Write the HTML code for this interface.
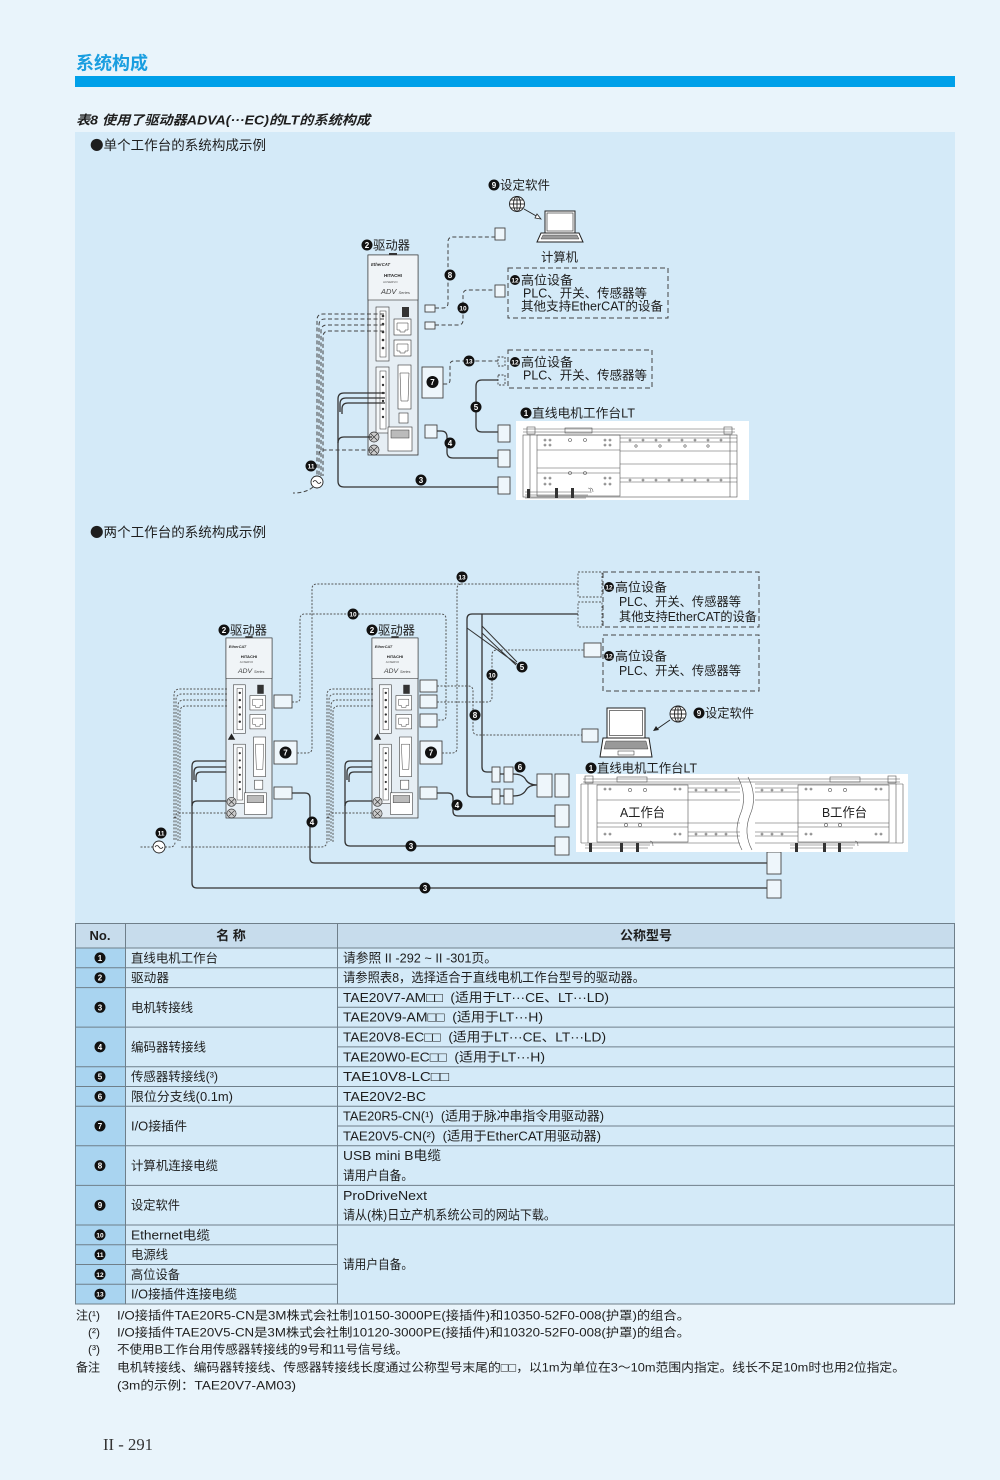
<!DOCTYPE html>
<html><head><meta charset="utf-8">
<style>
body{margin:0;padding:0;}
svg{display:block;}
.t{font-family:"Liberation Sans","Noto Sans CJK SC",sans-serif;fill:#1e1e1e;}
.c circle{fill:#111;}
.c text{fill:#fff;font-family:"Liberation Sans",sans-serif;font-size:8px;font-weight:bold;text-anchor:middle;}
.c text.s{font-size:6.5px;}
.ln{fill:none;stroke:#333;stroke-width:1.3;}
.ds{fill:none;stroke:#444;stroke-width:1;stroke-dasharray:4 2.5;}
.dt{fill:none;stroke:#555;stroke-width:1;stroke-dasharray:2 1.5;}
.bx{fill:#eef6fb;stroke:#444;stroke-width:0.9;}
.drv text{font-family:"Liberation Sans",sans-serif;}
.lt line,.lt rect,.lt path{stroke:#555;stroke-width:0.6;fill:none;}
.lt circle{fill:none;stroke:#555;stroke-width:0.6;}
</style></head><body>
<svg width="1000" height="1480" viewBox="0 0 1000 1480" xmlns="http://www.w3.org/2000/svg">
<rect x="0" y="0" width="1000" height="1480" fill="#e9f4fb"/>
<!-- header -->
<text class="t" x="76" y="69.5" font-size="18" font-weight="bold" style="fill:#1a9ee0" textLength="72" lengthAdjust="spacingAndGlyphs">系统构成</text>
<rect x="75" y="76" width="880" height="11" fill="#00a0e9"/>
<text class="t" x="76" y="124.5" font-size="13" font-weight="bold" font-style="italic" textLength="294" lengthAdjust="spacingAndGlyphs">表8 使用了驱动器ADVA(···EC)的LT的系统构成</text>
<rect x="75" y="132" width="880" height="791" fill="#d4eaf8"/>
<text x="90" y="150" font-size="13.5" fill="#1e1e1e" font-family="Noto Sans CJK SC, sans-serif" textLength="176" lengthAdjust="spacingAndGlyphs">●单个工作台的系统构成示例</text>
<text x="90" y="537" font-size="13.5" fill="#1e1e1e" font-family="Noto Sans CJK SC, sans-serif" textLength="176" lengthAdjust="spacingAndGlyphs">●两个工作台的系统构成示例</text>

<!-- ================= DIAGRAM 1 ================= -->
<g class="drv" transform="translate(368,255)">
<rect x="0" y="0" width="50" height="200" fill="#e6eef4" stroke="#333" stroke-width="0.8"/>
<rect x="0" y="0" width="50" height="45" fill="#f0f4f7" stroke="#333" stroke-width="0.6"/>
<rect x="21" y="-2" width="8" height="2" fill="#333"/>
<text x="3" y="11" font-size="4.2" font-weight="bold" font-style="italic" fill="#333">EtherCAT</text>
<text x="16" y="22" font-size="4.5" font-weight="bold" fill="#222">HITACHI</text>
<text x="15" y="28" font-size="3" fill="#555">ACSERVO</text>
<text x="13" y="39" font-size="7.5" font-style="italic" fill="#444">ADV <tspan font-size="4">Series</tspan></text>
<rect x="8" y="52" width="13" height="54" fill="#f5f8fa" stroke="#333" stroke-width="0.6"/>
<rect x="12" y="56" width="6" height="46" fill="#fff" stroke="#333" stroke-width="0.5"/>
<g fill="#333"><circle cx="15" cy="61" r="1.3"/><circle cx="15" cy="69" r="1.3"/><circle cx="15" cy="77" r="1.3"/><circle cx="15" cy="85" r="1.3"/><circle cx="15" cy="93" r="1.3"/></g>
<rect x="34" y="52" width="7" height="10" fill="#333"/>
<rect x="26" y="64" width="17" height="16" fill="#fff" stroke="#333" stroke-width="0.6"/>
<path d="M29,68 h11 v7 h-3 v2 h-5 v-2 h-3 z" fill="none" stroke="#333" stroke-width="0.5"/>
<rect x="26" y="85" width="17" height="16" fill="#fff" stroke="#333" stroke-width="0.6"/>
<path d="M29,89 h11 v7 h-3 v2 h-5 v-2 h-3 z" fill="none" stroke="#333" stroke-width="0.5"/>
<rect x="8" y="112" width="13" height="66" fill="#f5f8fa" stroke="#333" stroke-width="0.6"/>
<rect x="12" y="116" width="6" height="58" fill="#fff" stroke="#333" stroke-width="0.5"/>
<g fill="#333"><circle cx="15" cy="122" r="1.2"/><circle cx="15" cy="130" r="1.2"/><circle cx="15" cy="138" r="1.2"/><circle cx="15" cy="146" r="1.2"/><circle cx="15" cy="154" r="1.2"/><circle cx="15" cy="162" r="1.2"/></g>
<rect x="30" y="110" width="13" height="44" fill="#fff" stroke="#333" stroke-width="0.6"/>
<path d="M32,118 l9,0 l-1,28 l-7,0 z" fill="none" stroke="#333" stroke-width="0.5"/>
<rect x="31" y="158" width="9" height="10" fill="#fff" stroke="#333" stroke-width="0.6"/>
<rect x="20" y="172" width="24" height="24" fill="#fff" stroke="#333" stroke-width="0.6"/>
<rect x="23" y="175" width="18" height="8" fill="#bbb" stroke="#333" stroke-width="0.5"/>
<circle cx="6" cy="182" r="5" fill="#ccc" stroke="#333" stroke-width="0.7"/>
<path d="M3,179 l6,6 M9,179 l-6,6" stroke="#333" stroke-width="0.7"/>
<circle cx="6" cy="195" r="5" fill="#ccc" stroke="#333" stroke-width="0.7"/>
<path d="M3,192 l6,6 M9,192 l-6,6" stroke="#333" stroke-width="0.7"/>
</g>
<g class="c"><circle cx="367" cy="245" r="5.5"/><text x="367" y="248">2</text></g>
<text class="t" x="373" y="249.5" font-size="12.5" textLength="37" lengthAdjust="spacingAndGlyphs">驱动器</text>

<g fill="none" stroke="#222" stroke-width="0.9">
<circle cx="517" cy="204" r="7.5" fill="#fff"/>
<ellipse cx="517" cy="204" rx="3.5" ry="7.5"/>
<line x1="517" y1="196.5" x2="517" y2="211.5"/>
<line x1="509.5" y1="204" x2="524.5" y2="204"/>
<line x1="511" y1="200" x2="523" y2="200"/><line x1="511" y1="208" x2="523" y2="208"/>
<line x1="524" y1="209" x2="538" y2="217"/>
</g>
<path d="M541,219 l-6,-1 l2,-4 z" fill="#fff" stroke="#222" stroke-width="0.8"/>
<rect x="545" y="211" width="30" height="22" fill="#fff" stroke="#222" stroke-width="1"/>
<rect x="547" y="213" width="26" height="18" fill="none" stroke="#222" stroke-width="0.6"/>
<path d="M541,233 h38 l4,9 h-46 z" fill="#fff" stroke="#222" stroke-width="1"/>
<path d="M543,235 h34 l2,4 h-38 z" fill="#999" stroke="#222" stroke-width="0.4"/>
<g class="c"><circle cx="494" cy="185" r="5.5"/><text x="494" y="188">9</text></g>
<text class="t" x="500" y="189.5" font-size="12.5" textLength="50" lengthAdjust="spacingAndGlyphs">设定软件</text>
<text class="t" x="541" y="261.5" font-size="12.5" textLength="37" lengthAdjust="spacingAndGlyphs">计算机</text>

<rect class="bx" x="425" y="305" width="10" height="7"/>
<rect class="bx" x="425" y="322" width="10" height="7"/>
<rect class="bx" x="422" y="367" width="21" height="31"/>
<rect class="bx" x="425" y="425" width="12" height="13"/>
<path class="ds" d="M435,308 H443 Q448,308 448,303 V242 Q448,237 453,237 H495"/>
<rect class="bx" x="495" y="228" width="10" height="12"/>
<g class="c"><circle cx="450" cy="275" r="5.5"/><text x="450" y="278">8</text></g>
<path class="ds" d="M435,325 H458 Q463,325 463,320 V295 Q463,290 468,290 H495"/>
<rect class="bx" x="495" y="285" width="10" height="12"/>
<g class="c"><circle cx="463" cy="308" r="5.5"/><text class="s" x="463" y="310.5">10</text></g>
<rect x="508" y="268" width="160" height="50" fill="none" stroke="#444" stroke-width="1" stroke-dasharray="5 3"/>
<g class="c"><circle cx="515" cy="280" r="5"/><text class="s" x="515" y="282.5">12</text></g>
<text class="t" x="521" y="284.5" font-size="12.5" textLength="52" lengthAdjust="spacingAndGlyphs">高位设备</text>
<text class="t" x="523" y="297.5" font-size="12.5" textLength="124" lengthAdjust="spacingAndGlyphs">PLC、开关、传感器等</text>
<text class="t" x="521" y="310.5" font-size="12.5" textLength="142" lengthAdjust="spacingAndGlyphs">其他支持EtherCAT的设备</text>
<path class="ds" d="M443,384 H446 Q450,384 450,380 V365 Q450,361 454,361 H498"/>
<rect x="498" y="357" width="7" height="9" fill="none" stroke="#444" stroke-width="0.9" stroke-dasharray="2 1.5"/>
<g class="c"><circle cx="469" cy="361" r="5.5"/><text class="s" x="469" y="363.5">13</text></g>
<g class="c"><circle cx="432.5" cy="382" r="6"/><text x="432.5" y="385">7</text></g>
<rect x="508" y="350" width="144" height="38" fill="none" stroke="#444" stroke-width="1" stroke-dasharray="5 3"/>
<g class="c"><circle cx="515" cy="362" r="5"/><text class="s" x="515" y="364.5">12</text></g>
<text class="t" x="521" y="366.5" font-size="12.5" textLength="52" lengthAdjust="spacingAndGlyphs">高位设备</text>
<text class="t" x="523" y="379.5" font-size="12.5" textLength="124" lengthAdjust="spacingAndGlyphs">PLC、开关、传感器等</text>
<rect x="498" y="375" width="7" height="10" fill="none" stroke="#444" stroke-width="0.9" stroke-dasharray="2 1.5"/>
<path class="ln" d="M498,380 H482 Q476,380 476,386 V426 Q476,432 482,432 H498"/>
<rect class="bx" x="498" y="425" width="12" height="17"/>
<g class="c"><circle cx="476" cy="407" r="5.5"/><text x="476" y="410">5</text></g>
<path class="ln" d="M437,431 H441 Q447,431 447,437 V452 Q447,458 453,458 H498"/>
<rect class="bx" x="498" y="450" width="12" height="17"/>
<g class="c"><circle cx="450" cy="443" r="5.5"/><text x="450" y="446">4</text></g>
<path class="ln" d="M385,393 H344 Q338,393 338,399 V481 Q338,487 344,487 H498"/>
<path class="ln" d="M385,398 H346 Q340,398 340,404 V412"/>
<path class="ln" d="M385,403 H348 Q342,403 342,409 V414"/>
<path class="ln" d="M372,437 H344 Q338,437 338,443"/>
<rect class="bx" x="498" y="477" width="12" height="17"/>
<g class="c"><circle cx="421" cy="480" r="5.5"/><text x="421" y="483">3</text></g>
<path class="ds" d="M384,314 H323 Q317,314 317,320 V476"/>
<path class="ds" d="M384,319 H325 Q319,319 319,325 V476"/>
<path class="ds" d="M384,325 H327 Q321,325 321,331 V476"/>
<path class="ds" d="M384,331 H329 Q323,331 323,337 V476"/>
<path class="ds" d="M372,450 H324 Q319,450 319,455"/>
<path class="ds" d="M313,487 Q306,493 293,493"/>
<circle cx="317" cy="482" r="6" fill="#fff" stroke="#222" stroke-width="0.9"/>
<path d="M313,482 q2,-3 4,0 t4,0" fill="none" stroke="#222" stroke-width="0.8"/>
<g class="c"><circle cx="311" cy="466" r="5.5"/><text class="s" x="311" y="468.5">11</text></g>
<g class="c"><circle cx="526" cy="413" r="5.5"/><text x="526" y="416">1</text></g>
<text class="t" x="532" y="417.5" font-size="12.5" textLength="103" lengthAdjust="spacingAndGlyphs">直线电机工作台LT</text>
<rect x="516" y="421" width="233" height="79" fill="#fff"/>
<g class="lt">
<line x1="523" y1="429" x2="735" y2="429"/><line x1="523" y1="432" x2="735" y2="432"/>
<rect x="527" y="427" width="8" height="7"/><rect x="724" y="427" width="8" height="7"/>
<rect x="565" y="428" width="27" height="5"/>
<rect x="523" y="435" width="214" height="62"/>
<rect x="537" y="435" width="83" height="61"/>
<line x1="537" y1="450" x2="620" y2="450"/><line x1="537" y1="468" x2="620" y2="468"/><line x1="537" y1="473" x2="620" y2="473"/>
<line x1="620" y1="438" x2="737" y2="438"/><line x1="620" y1="442" x2="737" y2="442"/>
<line x1="620" y1="451" x2="737" y2="451"/><line x1="620" y1="464" x2="737" y2="464"/>
<line x1="620" y1="478" x2="737" y2="478"/><line x1="620" y1="482" x2="737" y2="482"/>
<line x1="530" y1="435" x2="530" y2="497"/><line x1="730" y1="435" x2="730" y2="497"/>
<circle cx="545" cy="440" r="1"/><circle cx="550" cy="440" r="1"/><circle cx="570" cy="440" r="1.5"/><circle cx="585" cy="440" r="1.5"/><circle cx="605" cy="440" r="1"/><circle cx="610" cy="440" r="1"/>
<circle cx="545" cy="445" r="1"/><circle cx="550" cy="445" r="1"/><circle cx="605" cy="445" r="1"/><circle cx="610" cy="445" r="1"/>
<circle cx="545" cy="478" r="1"/><circle cx="550" cy="478" r="1"/><circle cx="570" cy="473" r="1.5"/><circle cx="585" cy="473" r="1.5"/><circle cx="605" cy="478" r="1"/><circle cx="610" cy="478" r="1"/>
<circle cx="545" cy="484" r="1"/><circle cx="550" cy="484" r="1"/><circle cx="605" cy="484" r="1"/><circle cx="610" cy="484" r="1"/>
<circle cx="630" cy="440" r="1"/><circle cx="643" cy="440" r="1"/><circle cx="656" cy="440" r="1"/><circle cx="669" cy="440" r="1"/><circle cx="682" cy="440" r="1"/><circle cx="695" cy="440" r="1"/><circle cx="708" cy="440" r="1"/><circle cx="721" cy="440" r="1"/>
<circle cx="636" cy="446" r="1.2"/><circle cx="660" cy="446" r="1.2"/><circle cx="685" cy="446" r="1.2"/><circle cx="708" cy="446" r="1.2"/>
<circle cx="630" cy="480" r="1"/><circle cx="643" cy="480" r="1"/><circle cx="656" cy="480" r="1"/><circle cx="669" cy="480" r="1"/><circle cx="682" cy="480" r="1"/><circle cx="695" cy="480" r="1"/><circle cx="708" cy="480" r="1"/><circle cx="721" cy="480" r="1"/>
<path d="M525,492 H590 M525,495 H588 M525,498 H586 M590,488 q3,0 3,4 M588,488 q3,0 3,5"/>
</g>
<g fill="#333"><rect x="527" y="489" width="3" height="9"/><rect x="555" y="488" width="3" height="10"/><rect x="571" y="488" width="3" height="10"/></g>

<!-- ================= DIAGRAM 2 ================= -->
<g class="drv" transform="translate(226,638) scale(0.92,0.9)">
<rect x="0" y="0" width="50" height="200" fill="#e6eef4" stroke="#333" stroke-width="0.8"/>
<rect x="0" y="0" width="50" height="45" fill="#f0f4f7" stroke="#333" stroke-width="0.6"/>
<rect x="21" y="-2" width="8" height="2" fill="#333"/>
<text x="3" y="11" font-size="4.2" font-weight="bold" font-style="italic" fill="#333">EtherCAT</text>
<text x="16" y="22" font-size="4.5" font-weight="bold" fill="#222">HITACHI</text>
<text x="15" y="28" font-size="3" fill="#555">ACSERVO</text>
<text x="13" y="39" font-size="7.5" font-style="italic" fill="#444">ADV <tspan font-size="4">Series</tspan></text>
<rect x="8" y="52" width="13" height="54" fill="#f5f8fa" stroke="#333" stroke-width="0.6"/>
<rect x="12" y="56" width="6" height="46" fill="#fff" stroke="#333" stroke-width="0.5"/>
<g fill="#333"><circle cx="15" cy="61" r="1.3"/><circle cx="15" cy="69" r="1.3"/><circle cx="15" cy="77" r="1.3"/><circle cx="15" cy="85" r="1.3"/><circle cx="15" cy="93" r="1.3"/></g>
<rect x="34" y="52" width="7" height="10" fill="#333"/>
<rect x="26" y="64" width="17" height="16" fill="#fff" stroke="#333" stroke-width="0.6"/>
<path d="M29,68 h11 v7 h-3 v2 h-5 v-2 h-3 z" fill="none" stroke="#333" stroke-width="0.5"/>
<rect x="26" y="85" width="17" height="16" fill="#fff" stroke="#333" stroke-width="0.6"/>
<path d="M29,89 h11 v7 h-3 v2 h-5 v-2 h-3 z" fill="none" stroke="#333" stroke-width="0.5"/>
<path d="M2,113 l4,-7 l4,7 z" fill="#222"/>
<rect x="8" y="118" width="13" height="66" fill="#f5f8fa" stroke="#333" stroke-width="0.6"/>
<rect x="12" y="122" width="6" height="58" fill="#fff" stroke="#333" stroke-width="0.5"/>
<g fill="#333"><circle cx="15" cy="128" r="1.2"/><circle cx="15" cy="136" r="1.2"/><circle cx="15" cy="144" r="1.2"/><circle cx="15" cy="152" r="1.2"/><circle cx="15" cy="160" r="1.2"/><circle cx="15" cy="168" r="1.2"/></g>
<rect x="30" y="110" width="13" height="44" fill="#fff" stroke="#333" stroke-width="0.6"/>
<path d="M32,118 l9,0 l-1,28 l-7,0 z" fill="none" stroke="#333" stroke-width="0.5"/>
<rect x="31" y="158" width="9" height="10" fill="#fff" stroke="#333" stroke-width="0.6"/>
<rect x="20" y="172" width="24" height="24" fill="#fff" stroke="#333" stroke-width="0.6"/>
<rect x="23" y="175" width="18" height="8" fill="#bbb" stroke="#333" stroke-width="0.5"/>
<circle cx="6" cy="182" r="5" fill="#ccc" stroke="#333" stroke-width="0.7"/>
<path d="M3,179 l6,6 M9,179 l-6,6" stroke="#333" stroke-width="0.7"/>
<circle cx="6" cy="195" r="5" fill="#ccc" stroke="#333" stroke-width="0.7"/>
<path d="M3,192 l6,6 M9,192 l-6,6" stroke="#333" stroke-width="0.7"/>
</g>
<g class="drv" transform="translate(372,638) scale(0.92,0.9)">
<rect x="0" y="0" width="50" height="200" fill="#e6eef4" stroke="#333" stroke-width="0.8"/>
<rect x="0" y="0" width="50" height="45" fill="#f0f4f7" stroke="#333" stroke-width="0.6"/>
<rect x="21" y="-2" width="8" height="2" fill="#333"/>
<text x="3" y="11" font-size="4.2" font-weight="bold" font-style="italic" fill="#333">EtherCAT</text>
<text x="16" y="22" font-size="4.5" font-weight="bold" fill="#222">HITACHI</text>
<text x="15" y="28" font-size="3" fill="#555">ACSERVO</text>
<text x="13" y="39" font-size="7.5" font-style="italic" fill="#444">ADV <tspan font-size="4">Series</tspan></text>
<rect x="8" y="52" width="13" height="54" fill="#f5f8fa" stroke="#333" stroke-width="0.6"/>
<rect x="12" y="56" width="6" height="46" fill="#fff" stroke="#333" stroke-width="0.5"/>
<g fill="#333"><circle cx="15" cy="61" r="1.3"/><circle cx="15" cy="69" r="1.3"/><circle cx="15" cy="77" r="1.3"/><circle cx="15" cy="85" r="1.3"/><circle cx="15" cy="93" r="1.3"/></g>
<rect x="34" y="52" width="7" height="10" fill="#333"/>
<rect x="26" y="64" width="17" height="16" fill="#fff" stroke="#333" stroke-width="0.6"/>
<path d="M29,68 h11 v7 h-3 v2 h-5 v-2 h-3 z" fill="none" stroke="#333" stroke-width="0.5"/>
<rect x="26" y="85" width="17" height="16" fill="#fff" stroke="#333" stroke-width="0.6"/>
<path d="M29,89 h11 v7 h-3 v2 h-5 v-2 h-3 z" fill="none" stroke="#333" stroke-width="0.5"/>
<path d="M2,113 l4,-7 l4,7 z" fill="#222"/>
<rect x="8" y="118" width="13" height="66" fill="#f5f8fa" stroke="#333" stroke-width="0.6"/>
<rect x="12" y="122" width="6" height="58" fill="#fff" stroke="#333" stroke-width="0.5"/>
<g fill="#333"><circle cx="15" cy="128" r="1.2"/><circle cx="15" cy="136" r="1.2"/><circle cx="15" cy="144" r="1.2"/><circle cx="15" cy="152" r="1.2"/><circle cx="15" cy="160" r="1.2"/><circle cx="15" cy="168" r="1.2"/></g>
<rect x="30" y="110" width="13" height="44" fill="#fff" stroke="#333" stroke-width="0.6"/>
<path d="M32,118 l9,0 l-1,28 l-7,0 z" fill="none" stroke="#333" stroke-width="0.5"/>
<rect x="31" y="158" width="9" height="10" fill="#fff" stroke="#333" stroke-width="0.6"/>
<rect x="20" y="172" width="24" height="24" fill="#fff" stroke="#333" stroke-width="0.6"/>
<rect x="23" y="175" width="18" height="8" fill="#bbb" stroke="#333" stroke-width="0.5"/>
<circle cx="6" cy="182" r="5" fill="#ccc" stroke="#333" stroke-width="0.7"/>
<path d="M3,179 l6,6 M9,179 l-6,6" stroke="#333" stroke-width="0.7"/>
<circle cx="6" cy="195" r="5" fill="#ccc" stroke="#333" stroke-width="0.7"/>
<path d="M3,192 l6,6 M9,192 l-6,6" stroke="#333" stroke-width="0.7"/>
</g>
<g class="c"><circle cx="224" cy="630" r="5.5"/><text x="224" y="633">2</text></g>
<text class="t" x="230" y="634.5" font-size="12.5" textLength="37" lengthAdjust="spacingAndGlyphs">驱动器</text>
<g class="c"><circle cx="372" cy="630" r="5.5"/><text x="372" y="633">2</text></g>
<text class="t" x="378" y="634.5" font-size="12.5" textLength="37" lengthAdjust="spacingAndGlyphs">驱动器</text>

<rect class="bx" x="274" y="695" width="18" height="13"/>
<rect class="bx" x="274" y="741" width="23" height="23"/>
<rect class="bx" x="274" y="787" width="18" height="12"/>
<rect class="bx" x="420" y="680" width="17" height="12"/>
<rect class="bx" x="420" y="695" width="17" height="13"/>
<rect class="bx" x="420" y="714" width="17" height="13"/>
<rect class="bx" x="420" y="741" width="22" height="23"/>
<rect class="bx" x="420" y="787" width="17" height="12"/>
<g class="c"><circle cx="285.5" cy="752.5" r="6"/><text x="285.5" y="755.5">7</text></g>
<g class="c"><circle cx="431" cy="752.5" r="6"/><text x="431" y="755.5">7</text></g>

<path class="dt" d="M297,753 H307 Q312,753 312,748 V589 Q312,584 317,584 H578"/>
<path class="dt" d="M442,753 H452 Q457,753 457,748 V589 Q457,584 462,584"/>
<g class="c"><circle cx="462" cy="577" r="5.5"/><text class="s" x="462" y="579.5">13</text></g>
<path class="dt" d="M292,702 H296 Q300,702 300,698 V619 Q300,614 305,614 H441 Q446,614 446,619 V716 Q446,720 442,720 H437"/>
<g class="c"><circle cx="353" cy="614" r="5.5"/><text class="s" x="353" y="616.5">10</text></g>
<rect x="578" y="572" width="24" height="25" fill="none" stroke="#555" stroke-width="0.9" stroke-dasharray="2 1.5"/>
<rect x="578" y="602" width="24" height="25" fill="none" stroke="#555" stroke-width="0.9" stroke-dasharray="2 1.5"/>
<rect x="603" y="572" width="156" height="55" fill="none" stroke="#444" stroke-width="1" stroke-dasharray="5 3"/>
<g class="c"><circle cx="609" cy="587" r="5"/><text class="s" x="609" y="589.5">12</text></g>
<text class="t" x="615" y="591.5" font-size="12.5" textLength="52" lengthAdjust="spacingAndGlyphs">高位设备</text>
<text class="t" x="619" y="606" font-size="12.5" textLength="122" lengthAdjust="spacingAndGlyphs">PLC、开关、传感器等</text>
<text class="t" x="619" y="621" font-size="12.5" textLength="138" lengthAdjust="spacingAndGlyphs">其他支持EtherCAT的设备</text>
<rect x="603" y="635" width="156" height="56" fill="none" stroke="#444" stroke-width="1" stroke-dasharray="5 3"/>
<rect class="bx" x="584" y="643" width="17" height="14"/>
<g class="c"><circle cx="609" cy="656" r="5"/><text class="s" x="609" y="658.5">12</text></g>
<text class="t" x="615" y="660.5" font-size="12.5" textLength="52" lengthAdjust="spacingAndGlyphs">高位设备</text>
<text class="t" x="619" y="675" font-size="12.5" textLength="122" lengthAdjust="spacingAndGlyphs">PLC、开关、传感器等</text>
<path class="ln" d="M578,614 H472 Q467,614 467,619 V792 Q467,797 472,797 H492"/>
<path class="ln" d="M482,614 V767 Q482,772 487,772 H492"/>
<path fill="none" stroke="#333" stroke-width="1" d="M467,628 L517,664 M482,626 L517,662 M482,633 L516,665"/>
<g class="c"><circle cx="522" cy="667" r="5.5"/><text x="522" y="670">5</text></g>
<rect class="bx" x="492" y="767" width="8" height="15"/>
<rect class="bx" x="504" y="767" width="9" height="15"/>
<rect class="bx" x="492" y="789" width="8" height="15"/>
<rect class="bx" x="504" y="789" width="9" height="15"/>
<path class="ln" d="M500,774 H504 M500,796 H504 M513,774 Q523,774 526,780 Q529,785 537,785 M513,796 Q523,796 526,790 Q529,785 537,785"/>
<rect class="bx" x="537" y="774" width="15" height="23"/>
<rect class="bx" x="555" y="774" width="14" height="23"/>
<g class="c"><circle cx="520" cy="767" r="5.5"/><text x="520" y="770">6</text></g>
<path class="dt" d="M437,686 H468 Q473,686 473,691 V730 Q473,735 478,735 H582"/>
<rect class="bx" x="582" y="729" width="16" height="13"/>
<g class="c"><circle cx="475" cy="715" r="5.5"/><text x="475" y="718">8</text></g>
<path class="dt" d="M437,702 H487 Q492,702 492,697 V655 Q492,650 497,650 H584"/>
<g class="c"><circle cx="492" cy="675" r="5.5"/><text class="s" x="492" y="677.5">10</text></g>
<rect x="607" y="708" width="38" height="30" fill="#fff" stroke="#222" stroke-width="1"/>
<rect x="609.5" y="710.5" width="33" height="25" fill="none" stroke="#222" stroke-width="0.6"/>
<path d="M603,738 h46 l3,19 h-52 z" fill="#fff" stroke="#222" stroke-width="1"/>
<path d="M606,741 h40 l2,8 h-44 z" fill="#999" stroke="#222" stroke-width="0.4"/>
<rect x="618" y="751" width="16" height="4" fill="#fff" stroke="#222" stroke-width="0.5"/>
<g fill="none" stroke="#222" stroke-width="0.9">
<circle cx="678" cy="714" r="8" fill="#fff"/>
<ellipse cx="678" cy="714" rx="3.5" ry="8"/>
<line x1="678" y1="706" x2="678" y2="722"/>
<line x1="670" y1="714" x2="686" y2="714"/>
<line x1="671.5" y1="710" x2="684.5" y2="710"/><line x1="671.5" y1="718" x2="684.5" y2="718"/>
<line x1="670" y1="720" x2="657" y2="729"/>
</g>
<path d="M653,731 l3,-5 l3,4 z" fill="#222"/>
<g class="c"><circle cx="699" cy="713" r="5.5"/><text x="699" y="716">9</text></g>
<text class="t" x="705" y="717.5" font-size="12.5" textLength="49" lengthAdjust="spacingAndGlyphs">设定软件</text>
<path class="ln" d="M437,793 H448 Q453,793 453,798 V811 Q453,816 458,816 H555"/>
<rect class="bx" x="555" y="805" width="14" height="22"/>
<g class="c"><circle cx="457" cy="805" r="5.5"/><text x="457" y="808">4</text></g>
<path class="ln" d="M372,761 H350 Q345,761 345,766 V841 Q345,846 350,846 H555"/>
<path class="ln" d="M372,767 H352 Q347,767 347,772 V780"/>
<path class="ln" d="M372,772 H354 Q349,772 349,777 V782"/>
<path class="ln" d="M372,801 H350 Q345,801 345,806"/>
<rect class="bx" x="555" y="837" width="14" height="18"/>
<g class="c"><circle cx="411" cy="846" r="5.5"/><text x="411" y="849">3</text></g>
<path class="ln" d="M292,793 H305 Q310,793 310,798 V858 Q310,863 315,863 H767"/>
<rect class="bx" x="767" y="852" width="14" height="22"/>
<g class="c"><circle cx="312" cy="822" r="5.5"/><text x="312" y="825">4</text></g>
<path class="ln" d="M226,761 H197 Q192,761 192,766 V883 Q192,888 197,888 H767"/>
<path class="ln" d="M226,767 H199 Q194,767 194,772 V780"/>
<path class="ln" d="M226,772 H201 Q196,772 196,777 V782"/>
<path class="ln" d="M226,801 H197 Q192,801 192,806"/>
<rect class="bx" x="767" y="880" width="14" height="18"/>
<g class="c"><circle cx="425" cy="888" r="5.5"/><text x="425" y="891">3</text></g>
<path class="dt" d="M227,689 H180 Q174,689 174,695 V841"/>
<path class="dt" d="M227,694 H182 Q176,694 176,700 V841"/>
<path class="dt" d="M227,700 H184 Q178,700 178,706 V841"/>
<path class="dt" d="M227,706 H186 Q180,706 180,712 V841"/>
<path class="dt" d="M226,813 H180 Q175,813 175,818"/>
<path class="dt" d="M165,847 H170 Q175,847 175,842"/>
<path class="dt" d="M153,847 H140"/>
<path class="dt" d="M373,689 H333 Q327,689 327,695 V841 Q327,847 321,847 H180"/>
<path class="dt" d="M373,694 H335 Q329,694 329,700 V842"/>
<path class="dt" d="M373,700 H337 Q331,700 331,706 V842"/>
<path class="dt" d="M373,706 H339 Q333,706 333,712 V842"/>
<path class="dt" d="M372,813 H333 Q328,813 328,818"/>
<circle cx="159" cy="847" r="6" fill="#fff" stroke="#222" stroke-width="0.9"/>
<path d="M155,847 q2,-3 4,0 t4,0" fill="none" stroke="#222" stroke-width="0.8"/>
<g class="c"><circle cx="161" cy="833" r="5.5"/><text class="s" x="161" y="835.5">11</text></g>
<g class="c"><circle cx="591" cy="768" r="5.5"/><text x="591" y="771">1</text></g>
<text class="t" x="597" y="772.5" font-size="12.5" textLength="100" lengthAdjust="spacingAndGlyphs">直线电机工作台LT</text>
<rect x="576" y="774" width="332" height="78" fill="#fff"/>
<g class="lt">
<line x1="583" y1="779" x2="900" y2="779"/><line x1="583" y1="782" x2="900" y2="782"/>
<rect x="585" y="776" width="8" height="7"/><rect x="888" y="776" width="8" height="7"/>
<rect x="617" y="777" width="30" height="5"/><rect x="830" y="777" width="30" height="5"/>
<path d="M581,784 H740 M581,843 H740 M755,784 H903 M755,843 H903 M581,784 V843 M903,784 V843"/>
<path d="M588,784 V843 M896,784 V843"/>
<rect x="597" y="785" width="91" height="57"/>
<rect x="798" y="785" width="91" height="57"/>
<path d="M597,800 H688 M597,823 H688 M597,827 H688 M798,800 H889 M798,823 H889 M798,827 H889"/>
<path d="M688,788 H740 M688,792 H740 M688,800 H740 M688,823 H740 M688,832 H740 M688,836 H740"/>
<path d="M755,788 H798 M755,792 H798 M755,800 H798 M755,823 H798 M755,832 H798 M755,836 H798"/>
<path d="M738,777 Q748,797 740,815 Q733,833 742,850" stroke="#444" stroke-width="0.9"/>
<path d="M748,777 Q758,797 750,815 Q743,833 752,850" stroke="#444" stroke-width="0.9"/>
<circle cx="605" cy="789" r="1"/><circle cx="610" cy="789" r="1"/><circle cx="630" cy="790" r="1.6"/><circle cx="645" cy="790" r="1.6"/><circle cx="675" cy="789" r="1"/><circle cx="680" cy="789" r="1"/>
<circle cx="605" cy="834" r="1"/><circle cx="610" cy="834" r="1"/><circle cx="626" cy="825" r="1.6"/><circle cx="640" cy="825" r="1.6"/><circle cx="675" cy="834" r="1"/><circle cx="680" cy="834" r="1"/>
<circle cx="806" cy="789" r="1"/><circle cx="811" cy="789" r="1"/><circle cx="830" cy="790" r="1.6"/><circle cx="845" cy="790" r="1.6"/><circle cx="876" cy="789" r="1"/><circle cx="881" cy="789" r="1"/>
<circle cx="806" cy="834" r="1"/><circle cx="811" cy="834" r="1"/><circle cx="826" cy="825" r="1.6"/><circle cx="840" cy="825" r="1.6"/><circle cx="876" cy="834" r="1"/><circle cx="881" cy="834" r="1"/>
<circle cx="696" cy="790" r="1"/><circle cx="706" cy="790" r="1"/><circle cx="716" cy="790" r="1"/><circle cx="726" cy="790" r="1"/><circle cx="762" cy="790" r="1"/><circle cx="772" cy="790" r="1"/><circle cx="782" cy="790" r="1"/>
<circle cx="696" cy="834" r="1"/><circle cx="706" cy="834" r="1"/><circle cx="716" cy="834" r="1"/><circle cx="726" cy="834" r="1"/><circle cx="762" cy="834" r="1"/><circle cx="772" cy="834" r="1"/><circle cx="782" cy="834" r="1"/>
<path d="M585,845 H650 M585,848 H648 M650,841 q3,0 3,5 M790,845 H855 M790,848 H853 M855,841 q3,0 3,5"/>
</g>
<g fill="#333"><rect x="589" y="843" width="3" height="9"/><rect x="620" y="843" width="3" height="9"/><rect x="636" y="843" width="3" height="9"/><rect x="795" y="843" width="3" height="9"/><rect x="823" y="843" width="3" height="9"/><rect x="838" y="843" width="3" height="9"/></g>
<text class="t" x="620" y="817" font-size="13" textLength="45" lengthAdjust="spacingAndGlyphs">A工作台</text>
<text class="t" x="822" y="817" font-size="13" textLength="45" lengthAdjust="spacingAndGlyphs">B工作台</text>

<!-- ================= TABLE ================= -->
<rect x="75" y="923" width="880" height="25" fill="#c7dcec"/>
<rect x="75" y="948" width="50" height="356" fill="#a9d4f0"/>
<rect x="125" y="948" width="830" height="356" fill="#d4eaf8"/>
<g stroke="#6f7f8a" stroke-width="1" fill="none">
<rect x="75.5" y="923.5" width="879" height="380.5"/>
<line x1="125.5" y1="923" x2="125.5" y2="1304"/>
<line x1="337.5" y1="923" x2="337.5" y2="1304"/>
<line x1="75" y1="948" x2="955" y2="948"/>
<path d="M75,967.8H955 M75,987.6H955 M337,1007.3H955 M75,1027.1H955 M337,1046.9H955 M75,1066.7H955 M75,1086.5H955 M75,1106.2H955 M337,1126H955 M75,1145.8H955 M75,1185.4H955 M75,1225H955 M75,1244.7H337 M75,1264.5H337 M75,1284.3H337"/>
</g>
<g class="t" font-weight="bold" font-size="13">
<text x="100" y="940" text-anchor="middle">No.</text>
<text x="231" y="940" text-anchor="middle">名 称</text>
<text x="646" y="940" text-anchor="middle">公称型号</text>
</g>
<g class="c">
<circle cx="100" cy="957.9" r="5.5"/><text x="100" y="960.9">1</text>
<circle cx="100" cy="977.7" r="5.5"/><text x="100" y="980.7">2</text>
<circle cx="100" cy="1007.3" r="5.5"/><text x="100" y="1010.3">3</text>
<circle cx="100" cy="1046.9" r="5.5"/><text x="100" y="1049.9">4</text>
<circle cx="100" cy="1076.6" r="5.5"/><text x="100" y="1079.6">5</text>
<circle cx="100" cy="1096.4" r="5.5"/><text x="100" y="1099.4">6</text>
<circle cx="100" cy="1126" r="5.5"/><text x="100" y="1129">7</text>
<circle cx="100" cy="1165.6" r="5.5"/><text x="100" y="1168.6">8</text>
<circle cx="100" cy="1205.2" r="5.5"/><text x="100" y="1208.2">9</text>
<circle cx="100" cy="1234.9" r="5.5"/><text class="s" x="100" y="1237.4">10</text>
<circle cx="100" cy="1254.6" r="5.5"/><text class="s" x="100" y="1257.1">11</text>
<circle cx="100" cy="1274.4" r="5.5"/><text class="s" x="100" y="1276.9">12</text>
<circle cx="100" cy="1294.2" r="5.5"/><text class="s" x="100" y="1296.7">13</text>
</g>
<g class="t" font-size="12.5">
<text x="131" y="962.4" textLength="87" lengthAdjust="spacingAndGlyphs">直线电机工作台</text>
<text x="131" y="982.2" textLength="38" lengthAdjust="spacingAndGlyphs">驱动器</text>
<text x="131" y="1011.8" textLength="62" lengthAdjust="spacingAndGlyphs">电机转接线</text>
<text x="131" y="1051.4" textLength="75" lengthAdjust="spacingAndGlyphs">编码器转接线</text>
<text x="131" y="1081.1" textLength="87" lengthAdjust="spacingAndGlyphs">传感器转接线(³)</text>
<text x="131" y="1100.9" textLength="102" lengthAdjust="spacingAndGlyphs">限位分支线(0.1m)</text>
<text x="131" y="1130.5" textLength="56" lengthAdjust="spacingAndGlyphs">I/O接插件</text>
<text x="131" y="1170.1" textLength="87" lengthAdjust="spacingAndGlyphs">计算机连接电缆</text>
<text x="131" y="1209.7" textLength="49" lengthAdjust="spacingAndGlyphs">设定软件</text>
<text x="131" y="1239.4" textLength="79" lengthAdjust="spacingAndGlyphs">Ethernet电缆</text>
<text x="131" y="1259.1" textLength="37" lengthAdjust="spacingAndGlyphs">电源线</text>
<text x="131" y="1278.9" textLength="49" lengthAdjust="spacingAndGlyphs">高位设备</text>
<text x="131" y="1298.7" textLength="106" lengthAdjust="spacingAndGlyphs">I/O接插件连接电缆</text>
</g>
<g class="t" font-size="13">
<text x="343" y="962.4" textLength="154" lengthAdjust="spacingAndGlyphs">请参照 II -292 ~ II -301页。</text>
<text x="343" y="982.2" textLength="302" lengthAdjust="spacingAndGlyphs">请参照表8，选择适合于直线电机工作台型号的驱动器。</text>
<text x="343" y="1002" textLength="266" lengthAdjust="spacingAndGlyphs">TAE20V7-AM□□&#160;&#160;(适用于LT···CE、LT···LD)</text>
<text x="343" y="1021.7" textLength="200" lengthAdjust="spacingAndGlyphs">TAE20V9-AM□□&#160;&#160;(适用于LT···H)</text>
<text x="343" y="1041.5" textLength="263" lengthAdjust="spacingAndGlyphs">TAE20V8-EC□□&#160;&#160;(适用于LT···CE、LT···LD)</text>
<text x="343" y="1061.3" textLength="202" lengthAdjust="spacingAndGlyphs">TAE20W0-EC□□&#160;&#160;(适用于LT···H)</text>
<text x="343" y="1081.1" textLength="106" lengthAdjust="spacingAndGlyphs">TAE10V8-LC□□</text>
<text x="343" y="1100.9" textLength="83" lengthAdjust="spacingAndGlyphs">TAE20V2-BC</text>
<text x="343" y="1120.6" textLength="261" lengthAdjust="spacingAndGlyphs">TAE20R5-CN(¹)&#160;&#160;(适用于脉冲串指令用驱动器)</text>
<text x="343" y="1140.4" textLength="258" lengthAdjust="spacingAndGlyphs">TAE20V5-CN(²)&#160;&#160;(适用于EtherCAT用驱动器)</text>
<text x="343" y="1160.2" textLength="98" lengthAdjust="spacingAndGlyphs">USB mini B电缆</text>
<text x="343" y="1180" textLength="70" lengthAdjust="spacingAndGlyphs">请用户自备。</text>
<text x="343" y="1199.8" textLength="84" lengthAdjust="spacingAndGlyphs">ProDriveNext</text>
<text x="343" y="1219.6" textLength="213" lengthAdjust="spacingAndGlyphs">请从(株)日立产机系统公司的网站下载。</text>
<text x="343" y="1269" textLength="70" lengthAdjust="spacingAndGlyphs">请用户自备。</text>
</g>

<!-- notes -->
<g class="t" font-size="12">
<text x="76" y="1319.5" textLength="24" lengthAdjust="spacingAndGlyphs">注(¹)</text>
<text x="88" y="1336.5">(²)</text>
<text x="88" y="1353.5">(³)</text>
<text x="76" y="1371.5" textLength="24" lengthAdjust="spacingAndGlyphs">备注</text>
<text x="117" y="1319.5" textLength="573" lengthAdjust="spacingAndGlyphs">I/O接插件TAE20R5-CN是3M株式会社制10150-3000PE(接插件)和10350-52F0-008(护罩)的组合。</text>
<text x="117" y="1336.5" textLength="573" lengthAdjust="spacingAndGlyphs">I/O接插件TAE20V5-CN是3M株式会社制10120-3000PE(接插件)和10320-52F0-008(护罩)的组合。</text>
<text x="117" y="1353.5" textLength="291" lengthAdjust="spacingAndGlyphs">不使用B工作台用传感器转接线的9号和11号信号线。</text>
<text x="117" y="1371.5" textLength="788" lengthAdjust="spacingAndGlyphs">电机转接线、编码器转接线、传感器转接线长度通过公称型号末尾的□□，以1m为单位在3～10m范围内指定。线长不足10m时也用2位指定。</text>
<text x="117" y="1389.5" textLength="179" lengthAdjust="spacingAndGlyphs">(3m的示例：TAE20V7-AM03)</text>
</g>
<text x="103" y="1450" font-family="Liberation Serif, serif" font-size="17" fill="#333" textLength="50" lengthAdjust="spacingAndGlyphs">II - 291</text>
</svg>
</body></html>
